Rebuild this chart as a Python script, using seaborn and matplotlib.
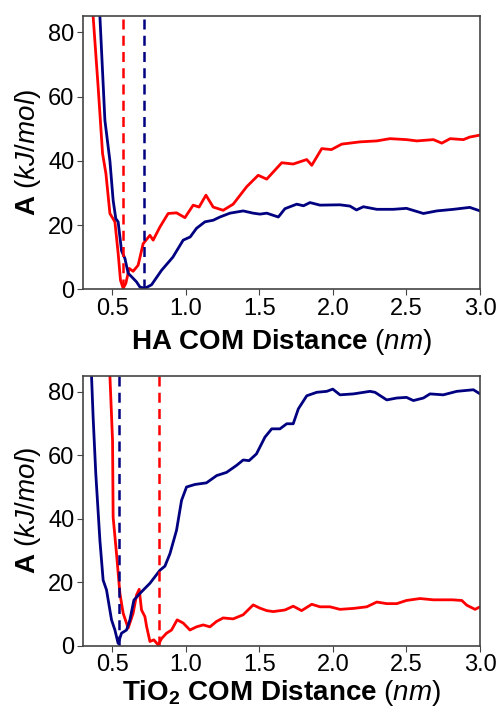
import matplotlib
matplotlib.use("Agg")
import matplotlib.pyplot as plt
import seaborn as sns
import numpy as np

# HA COM distance panel (top)
ha_blue_x = [0.416, 0.45, 0.484, 0.506, 0.524, 0.54, 0.563, 0.586, 0.608, 0.642, 0.665, 0.688, 0.722,
             0.767, 0.835, 0.912, 0.982, 1.03, 1.073, 1.13, 1.186, 1.232, 1.3, 1.39, 1.458, 1.504, 1.55,
             1.629, 1.674, 1.754, 1.8, 1.844, 1.912, 2.048, 2.116, 2.16, 2.207, 2.298, 2.41, 2.5, 2.615,
             2.706, 2.82, 2.93, 3.0]
ha_blue_y = [85, 52.6, 40, 27.7, 22, 21, 12, 9.6, 5, 3.4, 2.3, 0.7, 0.3,
             1.4, 5.9, 10, 15.3, 16.3, 19, 21, 21.5, 22.5, 23.7, 24.4, 23.7, 23.4, 23.7,
             22.5, 25.1, 26.5, 26, 27, 26.2, 26.3, 25.9, 24.7, 25.7, 24.9, 24.9, 25.2, 23.6,
             24.4, 24.9, 25.5, 24.4]
ha_red_x = [0.37, 0.404, 0.434, 0.457, 0.484, 0.518, 0.54, 0.556, 0.574, 0.592, 0.615, 0.642, 0.676,
            0.71, 0.756, 0.778, 0.824, 0.88, 0.937, 0.994, 1.05, 1.09, 1.137, 1.186, 1.254, 1.322,
            1.413, 1.492, 1.55, 1.652, 1.73, 1.822, 1.856, 1.924, 1.99, 2.06, 2.184, 2.298, 2.388,
            2.5, 2.57, 2.683, 2.74, 2.797, 2.887, 2.93, 3.0]
ha_red_y = [85, 63, 42.3, 36, 23.6, 21, 11.2, 2.8, 0.3, 1.8, 6.5, 5.6, 7.5,
            14.2, 16.8, 15.3, 19.4, 23.6, 23.8, 22.3, 26.2, 25.6, 29.3, 25.6, 24.6, 26.5,
            31.9, 35.5, 34.3, 39.4, 39, 40.4, 38.6, 43.8, 43.5, 45.2, 45.9, 46.2, 46.9,
            46.6, 46.2, 46.6, 45.5, 46.9, 46.6, 47.4, 48]
ha_min_blue = 0.715
ha_min_red = 0.574

# TiO2 COM distance panel (bottom)
ti_blue_x = [0.359, 0.37, 0.388, 0.416, 0.438, 0.461, 0.495, 0.518, 0.54, 0.563, 0.597, 0.62, 0.647,
             0.688, 0.756, 0.824, 0.858, 0.892, 0.937, 0.971, 1.005, 1.062, 1.14, 1.21, 1.277, 1.345,
             1.39, 1.43, 1.48, 1.538, 1.584, 1.64, 1.686, 1.73, 1.765, 1.822, 1.89, 1.958, 1.999,
             2.048, 2.14, 2.252, 2.286, 2.366, 2.434, 2.5, 2.547, 2.615, 2.66, 2.75, 2.842, 2.955, 3.0]
ti_blue_y = [85, 71.9, 54.2, 33.2, 20.7, 17.6, 8.2, 5, 0.8, 4, 5, 8.2, 14.4,
             16.5, 19.7, 23.8, 25.1, 29, 36.4, 45.8, 50, 50.8, 51.3, 53.6, 54.6, 56.8,
             58.5, 58.3, 60.4, 65.7, 68.3, 68.3, 69.9, 69.9, 74.6, 78.7, 79.8, 80.1, 80.8,
             79, 79.3, 80.1, 79.8, 77.4, 78, 78.2, 77.2, 78, 79.3, 79, 80.1, 80.6, 79.3]
ti_red_x = [0.484, 0.502, 0.506, 0.529, 0.552, 0.574, 0.608, 0.642, 0.665, 0.683, 0.699, 0.722, 0.733,
            0.756, 0.783, 0.812, 0.835, 0.869, 0.903, 0.941, 0.982, 1.028, 1.073, 1.118, 1.164, 1.209,
            1.254, 1.322, 1.39, 1.458, 1.503, 1.55, 1.594, 1.674, 1.73, 1.787, 1.856, 1.912, 1.98,
            2.048, 2.14, 2.23, 2.298, 2.366, 2.434, 2.5, 2.592, 2.683, 2.81, 2.876, 2.91, 2.966, 3.0]
ti_red_y = [85, 64.6, 40.5, 29, 16.5, 10.3, 5.6, 10.3, 16, 17.8, 11.3, 9.2, 6.2,
            1.4, 1.9, 0.3, 2.3, 4, 5, 8.2, 7.2, 5, 6, 6.6, 6, 7.7,
            8.8, 8.5, 9.8, 12.9, 11.9, 11.1, 10.8, 11.3, 12.5, 11.1, 13.1, 12.3, 12.3,
            11.5, 11.8, 12.3, 13.8, 13.3, 13.3, 14.3, 14.9, 14.5, 14.5, 14.3, 12.8, 11.5, 12.3]
ti_min_blue = 0.547
ti_min_red = 0.819

sns.set_style("ticks")
plt.rcParams['font.family'] = ['Liberation Sans', 'DejaVu Sans']
plt.rcParams['mathtext.fontset'] = 'custom'
plt.rcParams['mathtext.rm'] = 'Liberation Sans'
plt.rcParams['mathtext.it'] = 'Liberation Sans:italic'
plt.rcParams['mathtext.bf'] = 'Liberation Sans:bold'

BLUE = '#000080'
RED = '#ff0000'

fig = plt.figure(figsize=(4.99, 7.09), dpi=100)
ax_top = fig.add_axes([0.166, 0.592, 0.796, 0.385])
ax_bot = fig.add_axes([0.166, 0.089, 0.796, 0.381])


def draw_panel(ax, bx, by, rx, ry, bmin, rmin, xlabel, xpad):
    sns.lineplot(x=rx, y=ry, ax=ax, color=RED, lw=2, sort=False)
    sns.lineplot(x=bx, y=by, ax=ax, color=BLUE, lw=2, sort=False)
    ax.axvline(rmin, color=RED, lw=1.8, ls=(0, (4, 2.5)))
    ax.axvline(bmin, color=BLUE, lw=1.8, ls=(0, (4, 2.5)))
    ax.set_xlim(0.3, 3.0)
    ax.set_ylim(0, 85)
    ax.set_xticks([0.5, 1.0, 1.5, 2.0, 2.5, 3.0])
    ax.set_yticks([0, 20, 40, 60, 80])
    ax.set_xticklabels(["0.5", "1.0", "1.5", "2.0", "2.5", "3.0"])
    ax.tick_params(labelsize=17, length=4, color='#444444', labelcolor='black', pad=2)
    for s in ax.spines.values():
        s.set_color('#444444')
        s.set_linewidth(1.2)
    ax.set_ylabel(r"$\mathbf{A}$ ($kJ/mol$)", fontsize=20, color='black', labelpad=4)
    ax.set_xlabel(xlabel, fontsize=20, color='black', labelpad=xpad)


draw_panel(ax_top, ha_blue_x, ha_blue_y, ha_red_x, ha_red_y, ha_min_blue, ha_min_red,
           r"$\mathbf{HA\ COM\ Distance}$ ($nm$)", 5)
draw_panel(ax_bot, ti_blue_x, ti_blue_y, ti_red_x, ti_red_y, ti_min_blue, ti_min_red,
           r"$\mathbf{TiO_2\ COM\ Distance}$ ($nm$)", 1)

fig.savefig("out.png", dpi=100)
